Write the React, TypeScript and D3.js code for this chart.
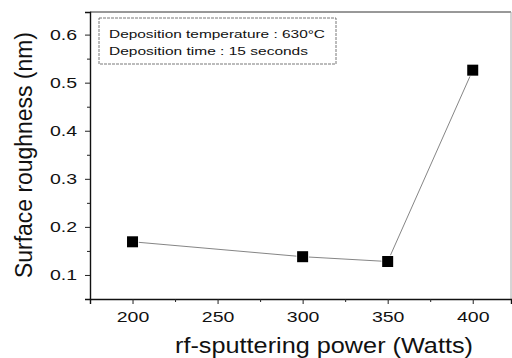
import React, { useEffect, useRef } from 'react';
import * as d3 from 'd3';

const powers = [200, 300, 350, 400];
const roughness = [0.169, 0.138, 0.128, 0.526];
const xTicks = [200, 250, 300, 350, 400];
const yTicks = [0.1, 0.2, 0.3, 0.4, 0.5, 0.6];
const noteLines = ['Deposition temperature : 630\u00b0C', 'Deposition time : 15 seconds'];

// the scanned figure's lettering is wider than Arial; stretch text to fit
const stretch = (sel: d3.Selection<any, any, any, any>, ratio: number) => {
  sel.each(function () {
    const el = this as SVGTextElement;
    const w = el.getComputedTextLength();
    el.setAttribute('textLength', String(w * ratio));
    el.setAttribute('lengthAdjust', 'spacingAndGlyphs');
  });
};

const App: React.FC = () => {
  const ref = useRef<SVGSVGElement>(null);

  useEffect(() => {
    if (!ref.current) return;
    const svg = d3.select(ref.current);
    svg.selectAll('*').remove();

    const left = 90, right = 511, top = 12, bottom = 299;
    const font = '"Liberation Sans", Arial, sans-serif';

    const x = d3.scaleLinear().domain([175, 422.5]).range([left, right]);
    const y = d3.scaleLinear().domain([0.05, 0.647]).range([bottom, top]);

    svg.append('rect').attr('width', 512).attr('height', 358).attr('fill', '#fff');

    // frame
    svg.append('line').attr('x1', left).attr('x2', right).attr('y1', top).attr('y2', top)
      .attr('stroke', '#333').attr('stroke-width', 1);
    svg.append('line').attr('x1', right).attr('x2', right).attr('y1', top).attr('y2', bottom)
      .attr('stroke', '#aaa').attr('stroke-width', 1);

    // axes
    const xAxis = svg.append('g').attr('transform', `translate(0,${bottom})`)
      .call(d3.axisBottom(x).tickValues(xTicks).tickSize(5).tickPadding(7).tickFormat(d3.format('d')));
    const xMinor = svg.append('g').attr('transform', `translate(0,${bottom})`)
      .call(d3.axisBottom(x).tickValues([225, 275, 325, 375]).tickSize(3).tickFormat(() => ''));
    xMinor.select('.domain').remove();

    const yAxis = svg.append('g').attr('transform', `translate(${left},0)`)
      .call(d3.axisLeft(y).tickValues(yTicks).tickSize(5).tickPadding(8).tickFormat(d3.format('.1f')));
    const yMinor = svg.append('g').attr('transform', `translate(${left},0)`)
      .call(d3.axisLeft(y).tickValues([0.15, 0.25, 0.35, 0.45, 0.55]).tickSize(3).tickFormat(() => ''));
    yMinor.select('.domain').remove();

    [xAxis, yAxis].forEach((g) => {
      g.select('.domain').attr('stroke', '#111').attr('stroke-width', 1.4);
      g.selectAll('text').attr('font-family', font).attr('font-size', 15).attr('fill', '#111');
      stretch(g.selectAll('text'), 1.3);
    });
    svg.selectAll('.tick line').attr('stroke', '#222');

    // line
    const line = d3.line<number>()
      .x((d, i) => x(powers[i]))
      .y((d) => y(d));
    svg.append('path')
      .datum(roughness)
      .attr('d', line)
      .attr('fill', 'none')
      .attr('stroke', '#777')
      .attr('stroke-width', 0.9);

    // markers
    svg.selectAll('rect.pt')
      .data(roughness)
      .enter()
      .append('rect')
      .attr('class', 'pt')
      .attr('x', (d, i) => x(powers[i]) - 5.5)
      .attr('y', (d) => y(d) - 5.5)
      .attr('width', 11)
      .attr('height', 11)
      .attr('fill', '#000')
      .attr('stroke', '#fff')
      .attr('stroke-width', 1.5)
      .attr('paint-order', 'stroke');

    // note box
    svg.append('rect')
      .attr('x', 99).attr('y', 18).attr('width', 237).attr('height', 46)
      .attr('fill', '#fff').attr('stroke', '#555').attr('stroke-width', 0.8)
      .attr('stroke-dasharray', '3,1');
    svg.selectAll('text.note')
      .data(noteLines)
      .enter()
      .append('text')
      .attr('class', 'note')
      .attr('x', 109)
      .attr('y', (d, i) => 38 + i * 17)
      .attr('font-family', font)
      .attr('font-size', 11.5)
      .attr('fill', '#111')
      .attr('textLength', (d, i) => (i === 0 ? 216 : 199))
      .attr('lengthAdjust', 'spacingAndGlyphs')
      .text((d) => d);

    // axis titles
    svg.append('text')
      .attr('transform', `translate(32,155) rotate(-90)`)
      .attr('text-anchor', 'middle')
      .attr('font-family', font)
      .attr('font-size', 23)
      .attr('fill', '#111')
      .attr('textLength', 246)
      .attr('lengthAdjust', 'spacingAndGlyphs')
      .text('Surface roughness (nm)');
    svg.append('text')
      .attr('x', 324)
      .attr('y', 353)
      .attr('text-anchor', 'middle')
      .attr('font-family', font)
      .attr('font-size', 22)
      .attr('fill', '#111')
      .attr('textLength', 298)
      .attr('lengthAdjust', 'spacingAndGlyphs')
      .text('rf-sputtering power (Watts)');
  }, []);

  return (
    <svg ref={ref} width={512} height={358}
      style={{ position: 'absolute', left: 0, top: 0, display: 'block' }} />
  );
};

export default App;
